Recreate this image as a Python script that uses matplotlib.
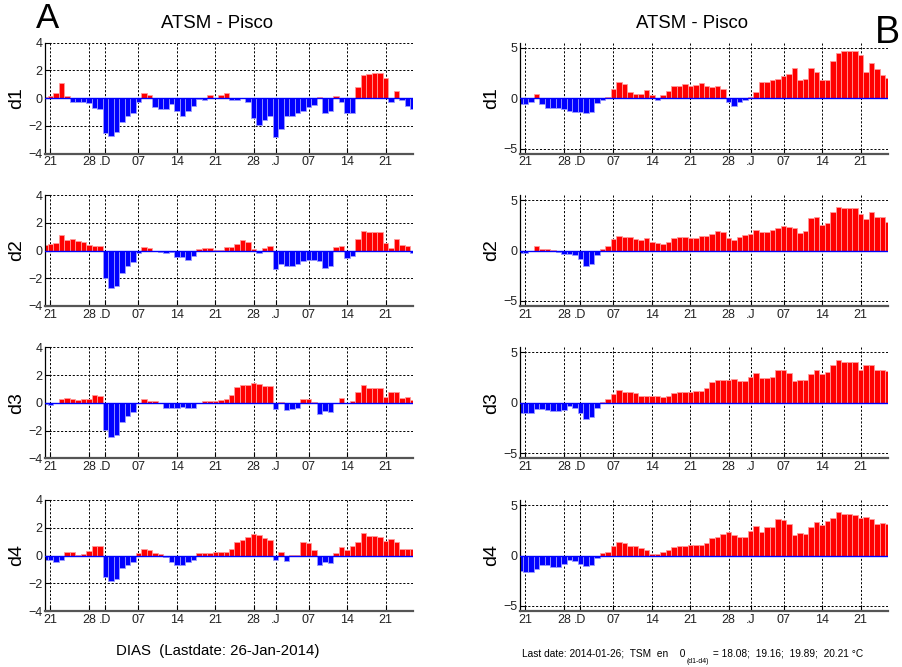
import numpy as np
import pandas as pd
import matplotlib
matplotlib.use('Agg')
import matplotlib.pyplot as plt
from matplotlib.text import Annotation

# daily anomalies, 20-Nov-2013 .. 26-Jan-2014
dates = pd.date_range('2013-11-20', '2014-01-26', freq='D')

tick_dates = pd.to_datetime(['2013-11-21', '2013-11-28', '2013-12-01', '2013-12-07',
                             '2013-12-14', '2013-12-21', '2013-12-28', '2014-01-01',
                             '2014-01-07', '2014-01-14', '2014-01-21'])
tick_labels = ['21', '28', '.D', '07', '14', '21', '28', '.J', '07', '14', '21']

# panel A
d1_A = [0.1, 0.15, 0.4, 1.1, 0.15, -0.3, -0.3, -0.25, -0.35, -0.7,
        -0.75, -2.5, -2.7, -2.45, -1.7, -1.3, -1.05, -0.3, 0.4, 0.2,
        -0.65, -0.8, -0.75, -0.4, -0.95, -1.3, -0.9, -0.55, -0.05, -0.1,
        0.2, 0.0, 0.2, 0.4, -0.1, -0.15, 0.0, -0.3, -1.45, -1.9,
        -1.6, -1.3, -2.8, -2.25, -1.3, -1.25, -1.05, -0.95, -0.6, -0.5,
        0.1, -1.1, -0.9, 0.15, -0.3, -1.05, -1.05, 0.8, 1.65, 1.75,
        1.8, 1.85, 1.45, -0.3, 0.55, -0.1, -0.55, -0.8]
d2_A = [0.4, 0.45, 0.55, 1.1, 0.75, 0.8, 0.7, 0.6, 0.4, 0.35,
        0.3, -2.0, -2.7, -2.55, -1.6, -1.1, -0.8, -0.15, 0.25, 0.2,
        0.0, -0.1, -0.2, -0.1, -0.45, -0.5, -0.65, -0.4, 0.1, 0.15,
        0.15, 0.05, 0.05, 0.25, 0.25, 0.45, 0.75, 0.6, 0.1, -0.2,
        0.15, 0.3, -1.35, -1.0, -1.15, -1.15, -1.0, -0.75, -0.65, -0.65,
        -0.75, -1.25, -1.1, 0.25, 0.35, -0.55, -0.4, 0.85, 1.4, 1.3,
        1.3, 1.3, 0.55, 0.2, 0.85, 0.4, 0.35, -0.2]
d3_A = [-0.1, -0.15, -0.05, 0.3, 0.35, 0.25, 0.2, 0.25, 0.25, 0.55,
        0.5, -1.95, -2.45, -2.3, -1.4, -0.95, -0.65, 0.0, 0.25, 0.15,
        0.1, -0.05, -0.4, -0.35, -0.4, -0.3, -0.4, -0.4, 0.0, 0.15,
        0.15, 0.15, 0.2, 0.3, 0.55, 1.15, 1.3, 1.3, 1.4, 1.35,
        1.2, 1.2, -0.45, 0.05, -0.55, -0.45, -0.4, 0.3, 0.3, 0.05,
        -0.8, -0.6, -0.65, -0.05, 0.35, -0.05, 0.1, 0.75, 1.3, 1.1,
        1.05, 1.05, 0.45, 0.8, 0.75, 0.35, 0.4, 0.2]
d4_A = [-0.3, -0.35, -0.45, -0.3, 0.25, 0.25, 0.05, 0.1, 0.35, 0.7,
        0.7, -1.55, -1.85, -1.7, -0.9, -0.7, -0.5, 0.2, 0.5, 0.4,
        0.2, 0.1, -0.1, -0.45, -0.65, -0.65, -0.5, -0.3, 0.15, 0.2,
        0.15, 0.25, 0.25, 0.25, 0.5, 0.95, 1.1, 1.3, 1.55, 1.5,
        1.25, 1.1, -0.35, 0.25, -0.4, 0.05, 0.05, 0.95, 0.9, 0.4,
        -0.65, -0.5, -0.55, 0.15, 0.6, 0.4, 0.7, 1.0, 1.6, 1.4,
        1.4, 1.35, 1.05, 1.2, 1.0, 0.45, 0.5, 0.45]

# panel B
d1_B = [-0.6, -0.6, -0.4, 0.4, -0.6, -1.0, -1.0, -0.95, -1.05, -1.3,
        -1.4, -1.4, -1.5, -1.35, -0.5, -0.2, 0.1, 0.95, 1.6, 1.45,
        0.6, 0.45, 0.45, 0.85, 0.3, -0.15, 0.3, 0.75, 1.2, 1.2,
        1.4, 1.2, 1.3, 1.5, 1.2, 1.1, 1.2, 0.95, -0.35, -0.75,
        -0.4, -0.2, 0.15, 0.6, 1.6, 1.65, 1.8, 1.9, 2.2, 2.4,
        2.95, 1.8, 1.95, 3.0, 2.6, 1.8, 1.8, 3.7, 4.5, 4.7,
        4.7, 4.7, 4.3, 2.6, 3.45, 2.85, 2.3, 2.05]
d2_B = [-0.2, -0.2, -0.05, 0.4, 0.1, 0.1, 0.05, -0.1, -0.3, -0.35,
        -0.45, -0.85, -1.5, -1.35, -0.45, 0.15, 0.4, 1.1, 1.45, 1.35,
        1.3, 1.15, 1.05, 1.2, 0.85, 0.75, 0.65, 0.85, 1.25, 1.35,
        1.35, 1.2, 1.25, 1.45, 1.45, 1.65, 1.9, 1.85, 1.25, 1.0,
        1.35, 1.5, 1.65, 2.0, 1.85, 1.85, 2.0, 2.2, 2.4, 2.3,
        2.25, 1.75, 1.95, 3.25, 3.35, 2.5, 2.7, 3.8, 4.3, 4.25,
        4.25, 4.25, 3.6, 3.15, 3.85, 3.35, 3.35, 2.85]
d3_B = [-1.0, -1.0, -1.0, -0.65, -0.65, -0.7, -0.8, -0.8, -0.7, -0.35,
        -0.5, -1.0, -1.6, -1.4, -0.5, 0.1, 0.35, 0.9, 1.25, 1.1,
        1.05, 0.95, 0.7, 0.7, 0.7, 0.7, 0.6, 0.65, 1.0, 1.1,
        1.1, 1.1, 1.2, 1.2, 1.5, 2.05, 2.25, 2.25, 2.3, 2.35,
        2.15, 2.2, 2.55, 3.0, 2.45, 2.5, 2.55, 3.25, 3.25, 3.0,
        2.15, 2.3, 2.3, 2.85, 3.25, 2.85, 3.1, 3.75, 4.25, 4.05,
        4.0, 4.0, 3.3, 3.7, 3.7, 3.25, 3.3, 3.2]
d4_B = [-1.5, -1.6, -1.6, -1.35, -0.95, -0.95, -1.1, -1.1, -0.85, -0.4,
        -0.5, -0.85, -1.05, -0.95, -0.25, 0.2, 0.35, 0.95, 1.3, 1.2,
        0.95, 0.9, 0.75, 0.55, 0.1, 0.1, 0.3, 0.55, 0.85, 0.9,
        0.95, 1.0, 1.0, 1.0, 1.25, 1.75, 1.85, 2.15, 2.3, 2.0,
        1.8, 1.8, 2.4, 2.95, 2.3, 2.8, 2.8, 3.65, 3.55, 3.15,
        2.05, 2.25, 2.15, 2.8, 3.3, 3.05, 3.4, 3.75, 4.3, 4.15,
        4.15, 4.05, 3.75, 3.85, 3.65, 3.15, 3.2, 3.1]

names = ['d1', 'd2', 'd3', 'd4']
series_A = [d1_A, d2_A, d3_A, d4_A]
series_B = [d1_B, d2_B, d3_B, d4_B]

plt.rcParams['font.family'] = ['Liberation Sans', 'DejaVu Sans']
tick_font = ['Liberation Sans Narrow', 'Liberation Sans']

W, H = 903, 667
fig = plt.figure(figsize=(W / 100, H / 100), dpi=100)


def panel(ax, vals, name, ylim, yticks):
    vals = np.array(vals)
    pos = vals > 0
    ax.bar(dates[pos], vals[pos], width=1.0, color='#ff0000',
           edgecolor='#ff9a9a', linewidth=0.6, zorder=2)
    ax.bar(dates[~pos], vals[~pos], width=1.0, color='#0000ff',
           edgecolor='#9a9aff', linewidth=0.6, zorder=2)
    ax.axhline(0, color='#0000ff', lw=1.0, zorder=3)
    ax.set_xlim(dates[0], dates[-1])
    ax.set_ylim(ylim)
    ax.set_yticks(yticks)
    ax.set_xticks(tick_dates)
    ax.set_xticklabels(tick_labels)
    ax.grid(True, color='black', linestyle=(0, (2.2, 1.8)), linewidth=0.7)
    ax.set_axisbelow(True)
    ax.spines['top'].set_visible(False)
    ax.spines['right'].set_visible(False)
    ax.spines['left'].set_color('black')
    ax.spines['left'].set_linewidth(0.9)
    ax.spines['bottom'].set_color('#555555')
    ax.spines['bottom'].set_linewidth(1.6)
    ax.tick_params(direction='in', length=4, width=0.8, pad=2,
                   labelsize=9, labelcolor='#222222')
    for lab in ax.get_xticklabels() + ax.get_yticklabels():
        lab.set_family(tick_font)
    ax.set_ylabel(name, fontsize=14)
    ax.yaxis.set_label_coords(-0.055, 0.5)


lefts = [45 / W, 520 / W]
aw = 368 / W
tops = [42.7, 195, 347.3, 500]
ah = 111 / H

for i in range(4):
    b = 1 - (tops[i] + 111) / H
    axA = fig.add_axes([lefts[0], b, aw, ah])
    panel(axA, series_A[i], names[i], (-4, 4), [-4, -2, 0, 2, 4])
    axB = fig.add_axes([lefts[1], b, aw, ah])
    panel(axB, series_B[i], names[i], (-5.5, 5.5), [-5, 0, 5])

fig.text(217 / W, 1 - 28 / H, 'ATSM - Pisco', ha='center', va='baseline', fontsize=13.4)
fig.text(692 / W, 1 - 28 / H, 'ATSM - Pisco', ha='center', va='baseline', fontsize=13.4)
fig.text(36 / W, 1 - 28 / H, 'A', ha='left', va='baseline', fontsize=25)
fig.text(875 / W, 1 - 43 / H, 'B', ha='left', va='baseline', fontsize=27)

fig.text(218 / W, 1 - 655 / H, 'DIAS  (Lastdate: 26-Jan-2014)',
         ha='center', va='baseline', fontsize=10.8)

t1 = fig.text(522 / W, 1 - 657 / H, 'Last date: 2014-01-26;  TSM  en    0',
              ha='left', va='baseline', fontsize=7.3)
t2 = Annotation('(d1-d4)', xy=(1, 0), xycoords=t1, xytext=(0.8, 0.5),
                textcoords='offset points', ha='left', va='top', fontsize=5)
fig.add_artist(t2)
t3 = Annotation(' = 18.08;  19.16;  19.89;  20.21 \u00b0C', xy=(1, 0), xycoords=(t2, t1),
                xytext=(0.5, 0), textcoords='offset points', ha='left', va='bottom',
                fontsize=7.3)
fig.add_artist(t3)

fig.savefig('out.png', dpi=100)
